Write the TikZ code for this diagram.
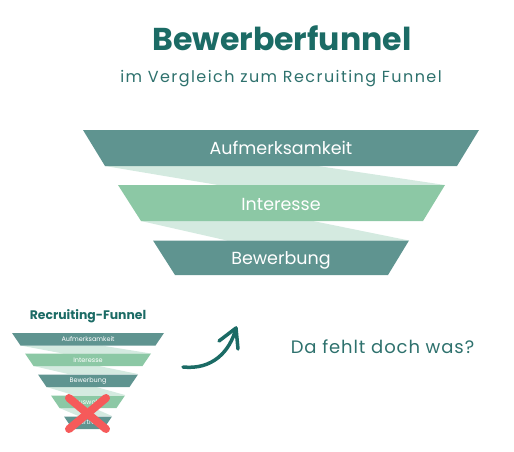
\documentclass[tikz,border=0pt]{standalone}
\usepackage{fontspec}
\setmainfont{Poppins}
\definecolor{darkt}{HTML}{5F9490}
\definecolor{lightg}{HTML}{8CC8A5}
\definecolor{band}{HTML}{D4EAE0}
\definecolor{titlec}{HTML}{1B6B65}
\definecolor{subc}{HTML}{2E716D}
\definecolor{redx}{HTML}{F65A5A}
\begin{document}
\begin{tikzpicture}[x=1pt,y=-1pt,
  lbl/.style={text=white,inner sep=0pt,anchor=base},
  slbl/.style={text=white,inner sep=0pt,font=\fontsize{6.5}{7}\selectfont},
  xline/.style={redx,line width=8,line cap=round},
  arr/.style={titlec,line width=3.5,line cap=round,line join=round}]
\useasboundingbox (0,0) rectangle (514,451);
% title
\node[anchor=base,inner sep=0pt,text=titlec,font=\fontsize{31.6}{36}\bfseries] (title) at (282,50) {Bewerberfunnel};
\node[anchor=base,inner sep=0pt,text=subc,font=\fontsize{16}{18}\selectfont\addfontfeature{LetterSpace=9}] (sub) at (281,82) {im Vergleich zum Recruiting Funnel};
% main funnel bands
\fill[band] (105,166) -- (318,166) -- (445,185) -- (218,185) -- cycle;
\fill[band] (141,221) -- (313,221) -- (409,240.5) -- (227,240.5) -- cycle;
% main traps
\fill[darkt] (83,130) -- (479,130) -- (457,166) -- (105,166) -- cycle;
\fill[lightg] (118,185) -- (445,185) -- (423,221) -- (141,221) -- cycle;
\fill[darkt] (153,240.5) -- (409,240.5) -- (388,275) -- (175,275) -- cycle;
\node[lbl,font=\fontsize{17.5}{20}\selectfont] (m1) at (281,154) {Aufmerksamkeit};
\node[lbl,font=\fontsize{17.5}{20}\selectfont] (m2) at (281,210) {Interesse};
\node[lbl,font=\fontsize{17.5}{20}\selectfont] (m3) at (281,264) {Bewerbung};
% small funnel
\node[anchor=base,inner sep=0pt,text=titlec,font=\fontsize{12.4}{14}\bfseries] (stitle) at (88,319) {Recruiting-Funnel};
\foreach \t/\h/\n in {333/76/0,353.5/63/1,374.5/50/2,395.5/37/3}{
  \pgfmathsetmacro{\b}{\t+12.5}
  \pgfmathsetmacro{\hb}{\h-8.5}
  \pgfmathsetmacro{\nt}{\t+20.5}
  \pgfmathsetmacro{\nh}{\h-13}
  \fill[band] (88-\hb,\b) -- (88-\hb+0.6*2*\hb,\b) -- (88+\nh,\nt) -- (88-\nh+0.3*2*\nh,\nt) -- cycle;
}
\fill[darkt] (12,333) -- (164,333) -- (155.5,345.5) -- (20.5,345.5) -- cycle;
\fill[lightg] (25,353.5) -- (151,353.5) -- (142.5,366) -- (33.5,366) -- cycle;
\fill[darkt] (38,374.5) -- (138,374.5) -- (129.5,387) -- (46.5,387) -- cycle;
\fill[lightg] (51,395.5) -- (125,395.5) -- (116.5,408) -- (59.5,408) -- cycle;
\fill[darkt] (64,416.5) -- (112,416.5) -- (103.5,429) -- (72.5,429) -- cycle;
\node[slbl] (s1) at (88,339.5) {Aufmerksamkeit};
\node[slbl] (s2) at (88,360) {Interesse};
\node[slbl] (s3) at (88,381) {Bewerbung};
\node[slbl] (s4) at (88,402) {Auswahl};
\node[slbl] (s5) at (88,423) {Vertrag};
% red cross
\coordinate (x1) at (69,398);
\coordinate (x2) at (106,429);
\coordinate (x3) at (106,398);
\coordinate (x4) at (69,429);
\draw[xline] (x1) -- (x2);
\draw[xline] (x3) -- (x4);
% arrow
\coordinate (a0) at (183,367);
\coordinate (a1) at (236,328);
\coordinate (w1) at (219,341);
\coordinate (w2) at (238,349);
\draw[arr] (a0) .. controls (212,370) and (230,352) .. (a1);
\draw[arr] (w1) -- (a1) -- (w2);
% question
\node[anchor=base,inner sep=0pt,text=subc,font=\fontsize{18}{21}\selectfont\addfontfeature{LetterSpace=5}] (q) at (382.5,353) {Da fehlt doch was?};
\end{tikzpicture}
\end{document}
